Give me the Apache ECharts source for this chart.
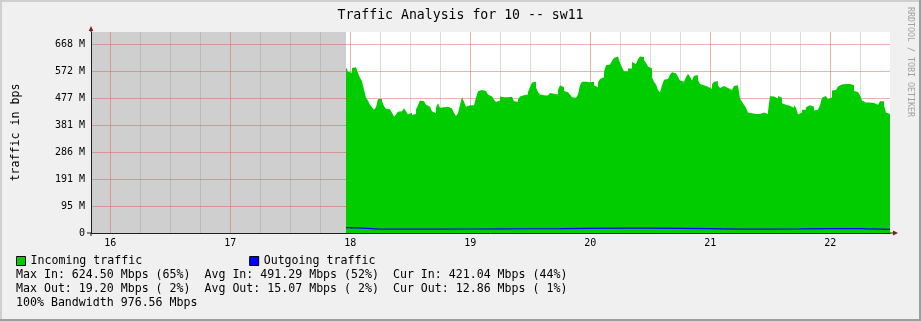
<!DOCTYPE html>
<html><head><meta charset="utf-8">
<script src="https://cdn.jsdelivr.net/npm/echarts@6/dist/echarts.min.js"></script>
<style>html,body{margin:0;padding:0;background:#f0f0f0;}#c{width:921px;height:321px;}</style>
</head><body><div id="c"></div>
<script>
// ---------- data ----------
const chartTitle = 'Traffic Analysis for 10 -- sw11';
const yAxisName = 'traffic in bps';
const watermark = 'RRDTOOL / TOBI OETIKER';
const yTickStep = 95.367431640625;           // M per y gridline
const xHourLabels = [16, 17, 18, 19, 20, 21, 22];
const xQuarterLines = [16.25, 16.5, 16.75, 17.25, 17.5, 17.75, 18.25, 18.5, 18.75, 19.25, 19.5, 19.75,
  20.25, 20.5, 20.75, 21.25, 21.5, 21.75, 22.25];
const xMin = 15.839, xMax = 22.4975, yMax = 711;
const unknownRange = [15.839, 17.964];       // no data recorded (grey)
const inStartHour = 17.964;                   // first sample (hour of day)
const inStepHours = 1 / 60;                   // one sample per minute
const incoming = [
  586,570,567,584,586,582,566,549,537,507,478,469,454,445,436,445,474,474,466,449,439,438,438,425,411,419,429,431,431,441,431,419,425,417,421,437,452,469,466,459,454,447,440,431,424,443,459,443,445,438,447,445,440,436,425,413,424,454,480,464,447,452,450,452,445,478,501,506,
  504,502,497,490,483,478,471,463,469,483,480,480,480,482,482,478,466,464,472,483,487,489,490,499,516,532,535,516,499,490,487,484,486,492,495,493,495,490,506,523,516,502,498,496,490,480,478,483,490,523,535,535,535,533,539,535,523,516,532,545,551,570,593,596,598,608,619,624.5,624,
  602,586,572,572,582,582,605,598,598,615,624,623,612,602,589,582,551,535,525,506,497,523,542,545,548,560,569,565,563,553,539,535,542,551,563,553,539,556,558,542,527,523,520,517,511,509,525,535,537,523,513,520,513,513,516,506,506,520,523,516,476,464,454,443,426,424,424,421,414,
  421,421,426,424,421,431,484,483,478,476,485,478,459,454,454,450,447,443,452,443,419,426,436,436,445,452,452,447,433,436,443,452,478,485,478,473,480,504,506,504,518,525,523,527,532,527,527,523,502,499,499,487,469,462,469,462,463,460,463,454,452,466,466,452,426,421.04
];
const outTimes = [17.964, 18.1, 18.25, 18.5, 18.75, 19.0, 19.25, 19.5, 19.75, 20.0, 20.25, 20.5, 20.75, 21.0, 21.25, 21.5, 21.75, 22.0, 22.25, 22.4975];
const outgoing = [19.2, 17.0, 14.0, 13.5, 13.8, 14.2, 14.5, 15.0, 15.5, 16.5, 17.5, 17.0, 16.5, 15.5, 13.8, 14.0, 14.8, 15.8, 15.2, 12.86];
const seriesNames = ['Incoming traffic', 'Outgoing traffic'];
const statLines = [
  'Max In: 624.50 Mbps (65%)  Avg In: 491.29 Mbps (52%)  Cur In: 421.04 Mbps (44%)',
  'Max Out: 19.20 Mbps ( 2%)  Avg Out: 15.07 Mbps ( 2%)  Cur Out: 12.86 Mbps ( 1%)',
  '100% Bandwidth 976.56 Mbps'
];

// ---------- styles ----------
const MONO = '"DejaVu Sans Mono", "Liberation Mono", monospace';
const MAJOR = 'rgba(222,79,79,0.45)';
const MINOR = 'rgba(143,143,143,0.32)';
const AXIS = '#1f1f1f';
const ARROW = '#801f1f';
const GREEN = '#00cc00', BLUE = '#0000ff';

const inData = incoming.map((v, i) => [inStartHour + i * inStepHours, v]);
inData.push([inStartHour + incoming.length * inStepHours, incoming[incoming.length - 1]]);
const outData = outTimes.map((t, i) => [t, outgoing[i]]);

const chart = echarts.init(document.getElementById('c'), null, {renderer: 'canvas'});

const gridLines = xHourLabels.map(h => ({xAxis: h, lineStyle: {color: MAJOR, width: 1, type: 'solid'}}))
  .concat(xQuarterLines.map(h => ({xAxis: h, lineStyle: {color: MINOR, width: 1, type: 'solid'}})));

const baseGraphic = [
  {id: 'fTop', type: 'rect', shape: {x: 0, y: 0, width: 921, height: 2}, style: {fill: '#cfcfcf'}, silent: true},
  {id: 'fLeft', type: 'rect', shape: {x: 0, y: 0, width: 2, height: 321}, style: {fill: '#cfcfcf'}, silent: true},
  {id: 'fBottom', type: 'rect', shape: {x: 0, y: 319, width: 921, height: 2}, style: {fill: '#9e9e9e'}, silent: true},
  {id: 'fRight', type: 'rect', shape: {x: 919, y: 0, width: 2, height: 321}, style: {fill: '#9e9e9e'}, silent: true},
  {id: 'wm', type: 'text', x: 910, y: 62, rotation: -Math.PI / 2, silent: true,
    style: {text: watermark, font: '8.3px ' + MONO, fill: '#a0a0a0', align: 'center', verticalAlign: 'middle'}},
].concat(statLines.map((t, i) => ({
  id: 'stat' + i, type: 'text', x: 16, y: 275 + i * 14, silent: true,
  style: {text: t, font: '11.6px ' + MONO, fill: '#000', align: 'left', verticalAlign: 'middle'}
})));

chart.setOption({
  animation: false,
  backgroundColor: '#f0f0f0',
  title: {
    text: chartTitle, left: 'center', top: 8, padding: 0,
    textStyle: {fontFamily: MONO, fontSize: 13.2, fontWeight: 'normal', color: '#000', lineHeight: 16}
  },
  legend: {
    data: seriesNames, left: 16, top: 254, padding: 0, itemGap: 107,
    itemWidth: 9, itemHeight: 9, icon: 'rect',
    itemStyle: {borderColor: '#000', borderWidth: 1},
    textStyle: {fontFamily: MONO, fontSize: 11.6, color: '#000', lineHeight: 14},
    selectedMode: false
  },
  grid: {left: 91, right: 31, top: 32, bottom: 88, show: true, backgroundColor: '#ffffff', borderWidth: 0, z: -2},
  xAxis: {
    type: 'value', min: xMin, max: xMax,
    axisLine: {show: true, lineStyle: {color: AXIS, width: 1}},
    axisTick: {show: false},
    splitLine: {show: false},
    axisLabel: {customValues: xHourLabels, formatter: v => String(v), fontFamily: MONO, fontSize: 10, color: '#000', margin: 5}
  },
  yAxis: {
    type: 'value', min: 0, max: yMax, interval: yTickStep,
    name: yAxisName, nameLocation: 'middle', nameGap: 69, nameRotate: 90,
    nameTextStyle: {fontFamily: MONO, fontSize: 11.6, color: '#000'},
    axisLine: {show: true, lineStyle: {color: AXIS, width: 1}},
    axisTick: {show: false},
    splitLine: {show: true, showMaxLine: false, lineStyle: {color: MAJOR, width: 1}},
    axisLabel: {
      showMaxLabel: false, fontFamily: MONO, fontSize: 10, color: '#000', margin: 6,
      formatter: v => {
        const k = v / yTickStep;
        if (Math.abs(k - Math.round(k)) > 1e-6) return '';
        return v === 0 ? '0' : Math.round(v) + ' M';
      }
    }
  },
  series: [
    {name: 'unknown', type: 'line', data: [], z: -1, silent: true,
      markArea: {silent: true, z: -1, itemStyle: {color: '#cfcfcf'}, label: {show: false},
        data: [[{xAxis: unknownRange[0]}, {xAxis: unknownRange[1]}]]}},
    {name: 'grid', type: 'line', data: [], z: 1, silent: true,
      markLine: {silent: true, z: 1, symbol: 'none', label: {show: false}, animation: false, data: gridLines}},
    {name: seriesNames[0], type: 'line', step: 'end', data: inData, showSymbol: false, z: 2,
      color: GREEN, itemStyle: {color: GREEN}, lineStyle: {width: 0, color: GREEN},
      areaStyle: {color: GREEN, opacity: 1}},
    {name: seriesNames[1], type: 'line', data: outData, showSymbol: false, z: 3,
      color: BLUE, itemStyle: {color: BLUE}, lineStyle: {width: 1.2, color: BLUE}}
  ],
  graphic: {elements: baseGraphic}
});

// axis arrows placed from the library's own coordinate conversion
const pTop = chart.convertToPixel({gridIndex: 0}, [xMin, yMax]);
const pEnd = chart.convertToPixel({gridIndex: 0}, [xMax, 0]);
const pOrigin = chart.convertToPixel({gridIndex: 0}, [xMin, 0]);
chart.setOption({graphic: {elements: [
  {id: 'yExt', type: 'line', shape: {x1: pTop[0], y1: pTop[1], x2: pTop[0], y2: pTop[1] - 2}, style: {stroke: AXIS, lineWidth: 1}, silent: true},
  {id: 'yDown', type: 'line', shape: {x1: pOrigin[0], y1: pOrigin[1], x2: pOrigin[0], y2: pOrigin[1] + 3}, style: {stroke: AXIS, lineWidth: 1}, silent: true},
  {id: 'xLeft', type: 'line', shape: {x1: pOrigin[0] - 4, y1: pOrigin[1], x2: pOrigin[0], y2: pOrigin[1]}, style: {stroke: AXIS, lineWidth: 1}, silent: true},
  {id: 'xExt', type: 'line', shape: {x1: pEnd[0], y1: pEnd[1], x2: pEnd[0] + 3, y2: pEnd[1]}, style: {stroke: AXIS, lineWidth: 1}, silent: true},
  {id: 'yArrow', type: 'polygon', shape: {points: [[pTop[0] - 2.3, pTop[1] - 1], [pTop[0] + 2.3, pTop[1] - 1], [pTop[0], pTop[1] - 6]]}, style: {fill: ARROW}, silent: true},
  {id: 'xArrow', type: 'polygon', shape: {points: [[pEnd[0] + 3, pEnd[1] - 2.4], [pEnd[0] + 3, pEnd[1] + 2.4], [pEnd[0] + 8, pEnd[1]]]}, style: {fill: ARROW}, silent: true}
]}});
</script></body></html>
